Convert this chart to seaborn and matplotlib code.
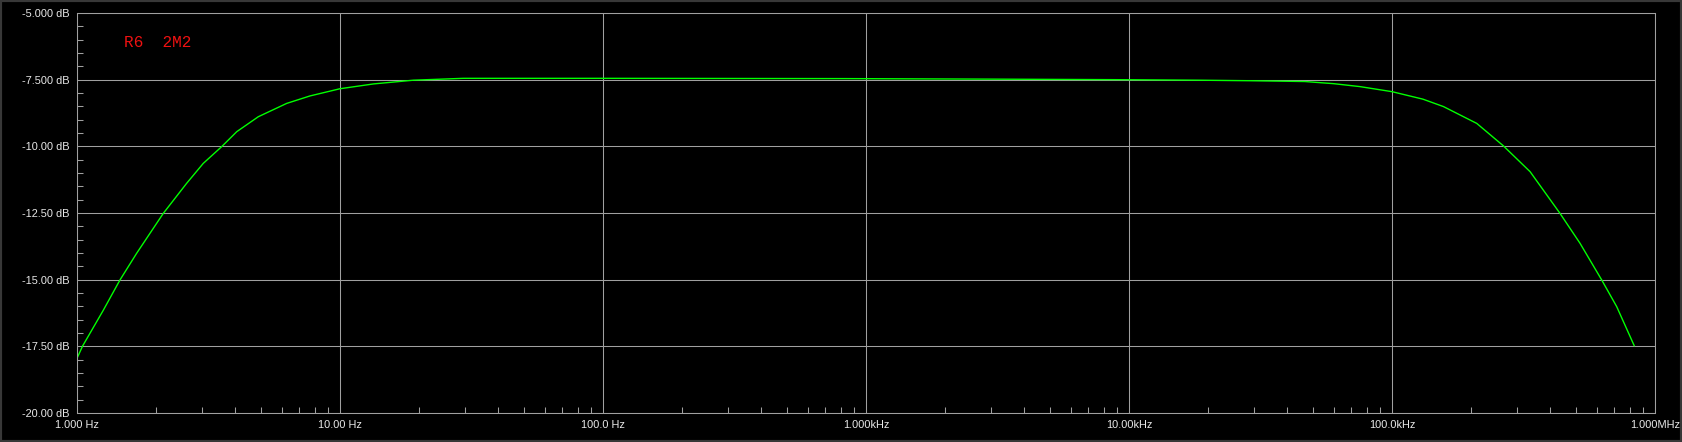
import pandas as pd
import seaborn as sns
import matplotlib.pyplot as plt
import numpy as np
from matplotlib.ticker import LogLocator, NullFormatter, MultipleLocator
from matplotlib.patches import Rectangle

# Frequency response
freq_hz = [1.0, 1.05, 1.26, 1.457, 1.686, 2.13, 2.61, 3.02, 3.55, 4.05, 4.89, 6.27,
           7.69, 10.0, 13.4, 19.0, 29.4, 100.0, 825.0, 3000.0, 8900.0, 18600.0,
           29000.0, 46700.0, 60000.0, 75500.0, 100000.0, 131000.0, 157000.0,
           210000.0, 265000.0, 335000.0, 435000.0, 519000.0, 627000.0, 715000.0,
           834000.0]
gain_db = [-17.95, -17.49, -16.14, -15.01, -14.01, -12.51, -11.39, -10.64, -10.01, -9.45,
           -8.89, -8.39, -8.11, -7.84, -7.66, -7.52, -7.45, -7.45, -7.46, -7.48,
           -7.50, -7.52, -7.54, -7.57, -7.65, -7.76, -7.95, -8.23, -8.51,
           -9.14, -9.98, -10.95, -12.51, -13.64, -15.01, -16.01, -17.48]

x_ticks = [1, 10, 100, 1e3, 1e4, 1e5, 1e6]
x_labels = ['1.000 Hz', '10.00 Hz', '100.0 Hz', '1.000kHz', '10.00kHz', '100.0kHz', '1.000MHz']
y_ticks = [-5.0, -7.5, -10.0, -12.5, -15.0, -17.5, -20.0]
y_labels = ['-5.000 dB', '-7.500 dB', '-10.00 dB', '-12.50 dB', '-15.00 dB', '-17.50 dB', '-20.00 dB']

df = pd.DataFrame({'freq': freq_hz, 'gain': gain_db})

sns.set_style('dark')
plt.rcParams['font.family'] = ['Liberation Sans', 'DejaVu Sans']

grid_col = '#a0a0a0'
fig = plt.figure(figsize=(16.82, 4.42), dpi=100, facecolor='black')
ax = fig.add_axes([0.04578, 0.06561, 0.93817, 0.90498])
ax.set_facecolor('black')

sns.lineplot(data=df, x='freq', y='gain', ax=ax, color='#00ff00', linewidth=1.0,
             estimator=None, sort=False)

ax.set_xscale('log')
ax.set_xlim(1, 1e6)
ax.set_ylim(-20, -5)
ax.set_xticks(x_ticks)
ax.set_xticklabels(x_labels)
ax.set_yticks(y_ticks)
ax.set_yticklabels(y_labels)
ax.xaxis.set_minor_locator(LogLocator(base=10, subs=range(2, 10)))
ax.xaxis.set_minor_formatter(NullFormatter())
ax.yaxis.set_minor_locator(MultipleLocator(0.5))
ax.set_xlabel('')
ax.set_ylabel('')

ax.grid(True, which='major', color=grid_col, linewidth=0.75)
ax.grid(False, which='minor')
ax.tick_params(which='major', length=0, labelsize=7.9, labelcolor='#e8e8e8')
ax.tick_params(axis='x', which='major', pad=5)
ax.tick_params(axis='y', which='major', pad=5.5)
ax.tick_params(which='minor', direction='in', length=4.5, width=0.75, color=grid_col,
               bottom=True, left=True)
for s in ax.spines.values():
    s.set_color(grid_col)
    s.set_linewidth(0.75)
    s.set_visible(True)

ax.text(0.0298, 0.925, 'R6  2M2', transform=ax.transAxes, color='#ee1111',
        fontsize=11.6, family='Liberation Mono', va='center', ha='left')

# dark grey window frame
fig.patches.append(Rectangle((0, 0), 1, 1, transform=fig.transFigure, fill=False,
                             edgecolor='#383838', linewidth=3))

fig.savefig('out.png', dpi=100, facecolor='black')
